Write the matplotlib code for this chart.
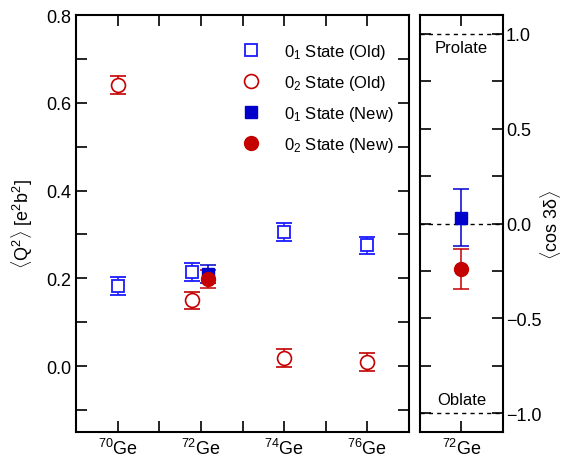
import numpy as np
import matplotlib
matplotlib.use("Agg")
import matplotlib.pyplot as plt
from matplotlib.ticker import MultipleLocator
from matplotlib.lines import Line2D

plt.rcParams['font.family'] = ['Liberation Sans', 'DejaVu Sans']
plt.rcParams['mathtext.fontset'] = 'custom'
plt.rcParams['mathtext.rm'] = 'Liberation Sans'
plt.rcParams['mathtext.it'] = 'Liberation Sans:italic'

# ---------- data ----------
nuclei = ["$^{70}$Ge", "$^{72}$Ge", "$^{74}$Ge", "$^{76}$Ge"]
q01_old = [0.182, 0.215, 0.306, 0.275]
q01_old_err = [0.02, 0.02, 0.02, 0.02]
q02_old = [0.640, 0.150, 0.018, 0.010]
q02_old_err = [0.02, 0.02, 0.02, 0.02]
q01_new = 0.210
q01_new_err = 0.02
q02_new = 0.199
q02_new_err = 0.02
cos_01 = 0.03
cos_01_err = 0.15
cos_02 = -0.24
cos_02_err = 0.105

BLUE_OPEN = "#1a1aff"
BLUE_FILL = "#0000cc"
RED = "#c40000"

fig = plt.figure(figsize=(5.63, 4.6), dpi=100)
ax = fig.add_axes([0.135, 0.0587, 0.5915, 0.9065])
ax2 = fig.add_axes([0.746, 0.0587, 0.1474, 0.9065])

x = np.arange(len(nuclei), dtype=float)
x_old = x.copy()
x_old[1] -= 0.11
x_new = 1 + 0.09

eb = dict(capsize=6, elinewidth=1.1, capthick=1.1, linestyle="none")
ax.errorbar(x_old, q01_old, yerr=q01_old_err, marker="s", ms=9, mfc="white",
            mec=BLUE_OPEN, mew=1.3, color=BLUE_OPEN, **eb)
ax.errorbar(x_old, q02_old, yerr=q02_old_err, marker="o", ms=10, mfc="white",
            mec=RED, mew=1.2, color=RED, **eb)
ax.errorbar([x_new], [q01_new], yerr=[q01_new_err], marker="s", ms=9, mfc=BLUE_FILL,
            mec=BLUE_FILL, color=BLUE_FILL, **eb)
ax.errorbar([x_new], [q02_new], yerr=[q02_new_err], marker="o", ms=10, mfc=RED,
            mec=RED, color=RED, **eb)

ax.set_xlim(-0.5, 3.5)
ax.set_ylim(-0.15, 0.8)
ax.set_xticks(x)
ax.set_xticklabels(nuclei, fontsize=17)
ax.xaxis.set_minor_locator(MultipleLocator(0.5))
ax.yaxis.set_minor_locator(MultipleLocator(0.1))
ax.set_yticks([0.0, 0.2, 0.4, 0.6, 0.8])
ax.set_yticklabels(["0.0", "0.2", "0.4", "0.6", "0.8"])
ax.set_ylabel(r"$\langle$Q$^2\rangle$ [e$^2$b$^2$]", fontsize=13, labelpad=8)
ax.tick_params(which="both", direction="in", top=True, right=True, length=8,
               width=1.2, labelsize=13)
ax.tick_params(axis="x", which="major", pad=4)

handles = [
    Line2D([], [], ls="none", marker="s", ms=8, mfc="white", mec=BLUE_OPEN, mew=1.3),
    Line2D([], [], ls="none", marker="o", ms=10, mfc="white", mec=RED, mew=1.2),
    Line2D([], [], ls="none", marker="s", ms=9, mfc=BLUE_FILL, mec=BLUE_FILL),
    Line2D([], [], ls="none", marker="o", ms=10, mfc=RED, mec=RED),
]
labels = ["$0_1$ State (Old)", "$0_2$ State (Old)", "$0_1$ State (New)", "$0_2$ State (New)"]
ax.legend(handles, labels, loc="upper right", frameon=False, fontsize=12,
          handletextpad=1.0, labelspacing=0.72, bbox_to_anchor=(1.0, 0.972))

# ---------- right panel ----------
for yv in [1.0, 0.0, -1.0]:
    ax2.axhline(yv, color="black", ls=(0, (3, 3)), lw=1.0, zorder=1)

ax2.errorbar([0], [cos_01], yerr=[cos_01_err], marker="s", ms=9, mfc=BLUE_FILL,
             mec=BLUE_FILL, color=BLUE_FILL, zorder=3, **eb)
ax2.errorbar([0], [cos_02], yerr=[cos_02_err], marker="o", ms=10, mfc=RED,
             mec=RED, color=RED, zorder=3, **eb)
ax2.text(0, 0.97, "Prolate", ha="center", va="top", fontsize=12)
ax2.text(0, -0.97, "Oblate", ha="center", va="bottom", fontsize=12)

ax2.set_xlim(-0.5, 0.5)
ax2.set_ylim(-1.1, 1.1)
ax2.set_xticks([0])
ax2.set_xticklabels(["$^{72}$Ge"], fontsize=17)
ax2.set_yticks([-1.0, -0.5, 0.0, 0.5, 1.0])
ax2.set_yticklabels(["\u22121.0", "\u22120.5", "0.0", "0.5", "1.0"])
ax2.yaxis.set_minor_locator(MultipleLocator(0.25))
ax2.yaxis.tick_right()
ax2.set_ylabel(r"$\langle$cos 3δ$\rangle$", fontsize=13, rotation=90)
ax2.yaxis.set_label_position("right")
ax2.yaxis.set_label_coords(1.42, 0.5)
ax2.tick_params(which="both", direction="in", top=True, left=True, right=True,
                length=8, width=1.2, labelsize=13)
ax2.tick_params(axis="y", which="major", pad=2)
ax2.tick_params(axis="x", which="major", pad=4)

for a in (ax, ax2):
    for s in a.spines.values():
        s.set_linewidth(1.5)

fig.savefig("out.png", dpi=100)
